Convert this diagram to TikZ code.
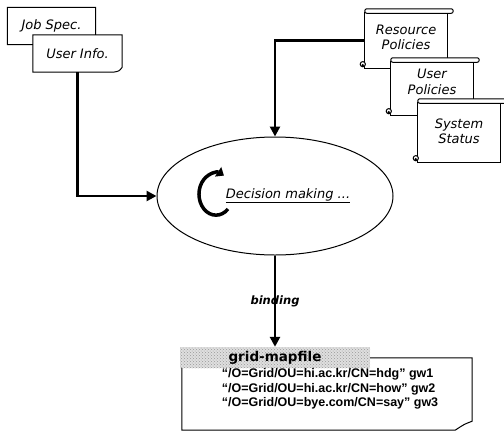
\documentclass[tikz,border=0pt]{standalone}
\usepackage{fontspec}
\setmainfont{DejaVu Sans}
\newfontfamily\gwfont{Liberation Sans}
\usetikzlibrary{arrows.meta}
\usetikzlibrary{shapes.geometric}
\usetikzlibrary{patterns}

\tikzset{
  paper/.style={fill=white, inner sep=0pt, align=center, font=\itshape\fontsize{13}{15.5}\selectfont},
  outline/.style={line width=1pt},
  flow/.style={line width=2.5pt, -{Triangle[length=10pt,width=10pt]}},
}

% outline of a sheet with a curled lower right corner
\newcommand{\sheetedge}[1]{%
  \draw[outline] ([xshift=-9pt]#1.south east) .. controls ([xshift=-3pt,yshift=1pt]#1.south east) .. ([yshift=5pt]#1.south east)
    -- (#1.north east) -- (#1.north west) -- (#1.south west) -- ([xshift=-9pt]#1.south east);
}
% roll at the top and curl at the bottom left of a scroll
\newcommand{\scrollparts}[1]{%
  \draw[outline] (#1.north west) rectangle (#1.south east);
  \draw[outline, fill=white, rounded corners=2pt] ([yshift=-0.5pt]#1.north west) rectangle ([xshift=6pt,yshift=4pt]#1.north east);
  \draw[outline, fill=white] ([xshift=-2pt,yshift=4pt]#1.south west) circle (2.6pt);
  \fill ([xshift=-2pt,yshift=3pt]#1.south west) circle (1.4pt);
}

\begin{document}
\begin{tikzpicture}[x=1pt,y=-1pt]
    \useasboundingbox (0,0) rectangle (504,432);

    % inputs of the user
    \node [paper, minimum width=88pt, minimum height=37pt] (jobspec) at (51.5,26) {Job Spec.};
    \sheetedge{jobspec}
    \node [paper, minimum width=89pt, minimum height=37pt] (userinfo) at (77.5,53.5) {User Info.};
    \sheetedge{userinfo}

    % policies
    \node [paper, minimum width=82pt, minimum height=55pt] (respol) at (406,40.5) {};
    \scrollparts{respol}
    \node [paper, fill=none] (respoltext) at ([yshift=3pt]respol.center) {Resource\\Policies};
    \node [paper, minimum width=82pt, minimum height=53pt] (userpol) at (432,88.5) {};
    \scrollparts{userpol}
    \node [paper, fill=none] (userpoltext) at ([yshift=6.5pt]userpol.center) {User\\Policies};
    \node [paper, minimum width=82pt, minimum height=59pt] (sysstat) at (459,132.5) {};
    \scrollparts{sysstat}
    \node [paper, fill=none] (sysstattext) at ([yshift=1pt]sysstat.center) {System\\Status};

    % decision
    \node [draw, outline, ellipse, minimum width=236pt, minimum height=118pt] (decision) at (275,196) {};
    \node [paper, fill=none] (decisiontext) at (288,196) {\underline{Decision making ...}};
    \draw [line width=3.5pt, -{Triangle[length=7pt,width=11pt]}] ([xshift=-47pt,yshift=-13pt]decision.center)
        arc[start angle=-45, end angle=-298, x radius=17pt, y radius=21pt];

    % grid-mapfile
    \node [inner sep=0pt, minimum width=290pt, minimum height=72pt] (mapfile) at (327,394) {};
    \draw [outline] ([xshift=-17pt]mapfile.south east) .. controls ([xshift=-8pt,yshift=6pt]mapfile.south east) .. ([yshift=9pt]mapfile.south east)
        -- (mapfile.north east) -- (mapfile.north west) -- (mapfile.south west) -- ([xshift=-17pt]mapfile.south east);
    \node [inner sep=0pt, minimum width=190pt, minimum height=21pt, preaction={fill=gray!25},
           pattern=crosshatch dots, pattern color=gray!80,
           font=\bfseries\fontsize{13.5}{16}\selectfont] (maphead) at (275,357.5) {grid-mapfile};
    \node [align=left, inner sep=0pt, font=\gwfont\bfseries\fontsize{12.5}{14.5}\selectfont] (maplines) at (330,389)
        {“/O=Grid/OU=hi.ac.kr/CN=hdg” gw1\\“/O=Grid/OU=hi.ac.kr/CN=how” gw2\\“/O=Grid/OU=bye.com/CN=say” gw3};

    \draw [flow] (userinfo.south) |- (decision.west);
    \draw [flow] (respol.west) -| (decision.north);
    \draw [flow] (decision.south) -- node [font=\bfseries\itshape\fontsize{11.5}{13}\selectfont, inner sep=1pt] {binding} (maphead.north);

\end{tikzpicture}
\end{document}
